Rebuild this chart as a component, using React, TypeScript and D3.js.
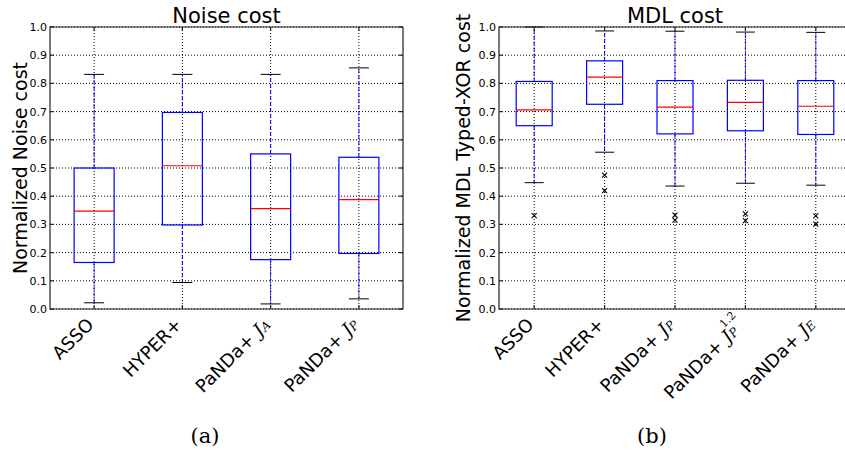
import React from "react";
import * as d3 from "d3";

// Noise cost panel (a)
const noiseNames = ["ASSO", "HYPER+", "PaNDa+", "PaNDa+"];
const noiseSub = ["", "", "A", "P"];
const noiseSup = ["", "", "", ""];
const noiseLow = [0.022, 0.094, 0.018, 0.036];
const noiseQ1 = [0.165, 0.298, 0.175, 0.197];
const noiseMed = [0.347, 0.508, 0.356, 0.388];
const noiseQ3 = [0.5, 0.697, 0.55, 0.538];
const noiseHigh = [0.832, 0.832, 0.832, 0.855];
const noiseOut: number[][] = [[], [], [], []];

// MDL cost panel (b)
const mdlNames = ["ASSO", "HYPER+", "PaNDa+", "PaNDa+", "PaNDa+"];
const mdlSub = ["", "", "P", "P", "E"];
const mdlSup = ["", "", "", "1.2", ""];
const mdlLow = [0.448, 0.556, 0.436, 0.446, 0.439];
const mdlQ1 = [0.65, 0.726, 0.621, 0.632, 0.619];
const mdlMed = [0.706, 0.822, 0.716, 0.733, 0.719];
const mdlQ3 = [0.807, 0.88, 0.81, 0.811, 0.81];
const mdlHigh = [1.0, 0.986, 0.985, 0.982, 0.981];
const mdlOut = [[0.331], [0.475, 0.42], [0.333, 0.315], [0.337, 0.313], [0.33, 0.301]];

const yTicks = d3.range(0, 11).map((i) => i / 10);

const top = 27;
const bottom = 309;

type PanelProps = {
  left: number;
  right: number;
  title: string;
  ylabel: string;
  ylabelX: number;
  names: string[];
  sub: string[];
  sup: string[];
  low: number[];
  q1: number[];
  med: number[];
  q3: number[];
  high: number[];
  out: number[][];
  boxW: number;
  capW: number;
  caption: string;
  captionX: number;
};

const Panel = (p: PanelProps) => {
  const n = p.names.length;
  const x = d3.scaleLinear().domain([0.5, n + 0.5]).range([p.left, p.right]);
  const y = d3.scaleLinear().domain([0, 1]).range([bottom, top]);
  const idx = d3.range(n);
  const cx = (i: number) => x(i + 1);
  const cid = `clip-${p.left}`;

  return (
    <g>
      <defs>
        <clipPath id={cid}>
          <rect x={p.left} y={top - 2} width={p.right - p.left} height={bottom - top + 4} />
        </clipPath>
      </defs>
      {/* grid */}
      <g stroke="#000" strokeWidth={1} strokeDasharray="1,2">
        {yTicks.map((t) => (
          <line key={`gy${t}`} x1={p.left} x2={p.right} y1={y(t)} y2={y(t)} />
        ))}
        {idx.map((i) => (
          <line key={`gx${i}`} x1={cx(i)} x2={cx(i)} y1={top} y2={bottom} />
        ))}
      </g>
      {/* boxes */}
      <g clipPath={`url(#${cid})`}>
        {idx.map((i) => (
          <g key={`b${i}`}>
            <line x1={cx(i)} x2={cx(i)} y1={y(p.q1[i])} y2={y(p.low[i])} stroke="#0000ff" strokeDasharray="4,2" />
            <line x1={cx(i)} x2={cx(i)} y1={y(p.q3[i])} y2={y(p.high[i])} stroke="#0000ff" strokeDasharray="4,2" />
            <line x1={cx(i) - p.capW / 2} x2={cx(i) + p.capW / 2} y1={y(p.low[i])} y2={y(p.low[i])} stroke="#000" />
            <line x1={cx(i) - p.capW / 2} x2={cx(i) + p.capW / 2} y1={y(p.high[i])} y2={y(p.high[i])} stroke="#000" />
            <rect x={cx(i) - p.boxW / 2} width={p.boxW} y={y(p.q3[i])} height={y(p.q1[i]) - y(p.q3[i])} fill="none" stroke="#0000ff" strokeWidth={1.2} />
            <line x1={cx(i) - p.boxW / 2} x2={cx(i) + p.boxW / 2} y1={y(p.med[i])} y2={y(p.med[i])} stroke="#ff0000" strokeWidth={1.2} />
            {p.out[i].map((v, j) => (
              <path key={j} d={`M${cx(i) - 2.5},${y(v) - 2.5}L${cx(i) + 2.5},${y(v) + 2.5}M${cx(i) - 2.5},${y(v) + 2.5}L${cx(i) + 2.5},${y(v) - 2.5}`} stroke="#000" strokeWidth={1.1} />
            ))}
          </g>
        ))}
      </g>
      {/* frame and ticks */}
      <g stroke="#222" strokeWidth={1.2} fill="none">
        <path d={`M${p.right},${top}H${p.left}V${bottom}H${p.right}V${top}`} />
        {yTicks.map((t) => (
          <g key={`ty${t}`}>
            <line x1={p.left} x2={p.left + 4} y1={y(t)} y2={y(t)} />
            <line x1={p.right} x2={p.right - 4} y1={y(t)} y2={y(t)} />
          </g>
        ))}
        {idx.map((i) => (
          <g key={`tx${i}`}>
            <line x1={cx(i)} x2={cx(i)} y1={bottom} y2={bottom - 4} />
            <line x1={cx(i)} x2={cx(i)} y1={top} y2={top + 4} />
          </g>
        ))}
      </g>
      {/* y tick labels */}
      <g fontFamily="DejaVu Sans" fontSize={11} fill="#000" textAnchor="end">
        {yTicks.map((t) => (
          <text key={`l${t}`} x={p.left - 3} y={y(t)} dy="0.36em">
            {d3.format(".1f")(t)}
          </text>
        ))}
      </g>
      {/* x tick labels */}
      <g fontFamily="DejaVu Sans" fontSize={18} fill="#000">
        {idx.map((i) => (
          <text
            key={`xl${i}`}
            transform={`translate(${cx(i) - 9},${bottom + 7}) rotate(-45)`}
            textAnchor="end"
            dominantBaseline="hanging"
          >
            {p.names[i]}
            {p.sub[i] && (
              <>
                <tspan fontFamily="DejaVu Serif" fontStyle="italic" fontSize={18} dx={6}>J</tspan>
                <tspan fontFamily="DejaVu Serif" fontStyle="italic" fontSize={12} dy={5}>{p.sub[i]}</tspan>
                {p.sup[i] && (
                  <tspan fontFamily="DejaVu Serif" fontSize={11} dx={-8} dy={-13}>{p.sup[i]}</tspan>
                )}
              </>
            )}
          </text>
        ))}
      </g>
      <text x={(p.left + p.right) / 2} y={23} fontFamily="DejaVu Sans" fontSize={21} textAnchor="middle">
        {p.title}
      </text>
      <text transform={`translate(${p.ylabelX},${(top + bottom) / 2}) rotate(-90)`} fontFamily="DejaVu Sans" fontSize={19} textAnchor="middle">
        {p.ylabel}
      </text>
      <text x={p.captionX} y={443} fontFamily="DejaVu Serif" fontSize={21} textAnchor="middle">
        {p.caption}
      </text>
    </g>
  );
};

export default function App() {
  return (
    <svg width={845} height={452} style={{ position: "absolute", left: 0, top: 0, background: "#fff" }}>
      <rect width={845} height={452} fill="#fff" />
      <Panel
        left={50}
        right={403}
        title="Noise cost"
        ylabel="Normalized Noise cost"
        ylabelX={27}
        names={noiseNames}
        sub={noiseSub}
        sup={noiseSup}
        low={noiseLow}
        q1={noiseQ1}
        med={noiseMed}
        q3={noiseQ3}
        high={noiseHigh}
        out={noiseOut}
        boxW={40}
        capW={20}
        caption="(a)"
        captionX={205}
      />
      <Panel
        left={499}
        right={851}
        title="MDL cost"
        ylabel="Normalized MDL Typed-XOR cost"
        ylabelX={470}
        names={mdlNames}
        sub={mdlSub}
        sup={mdlSup}
        low={mdlLow}
        q1={mdlQ1}
        med={mdlMed}
        q3={mdlQ3}
        high={mdlHigh}
        out={mdlOut}
        boxW={36}
        capW={19}
        caption="(b)"
        captionX={652}
      />
    </svg>
  );
}
